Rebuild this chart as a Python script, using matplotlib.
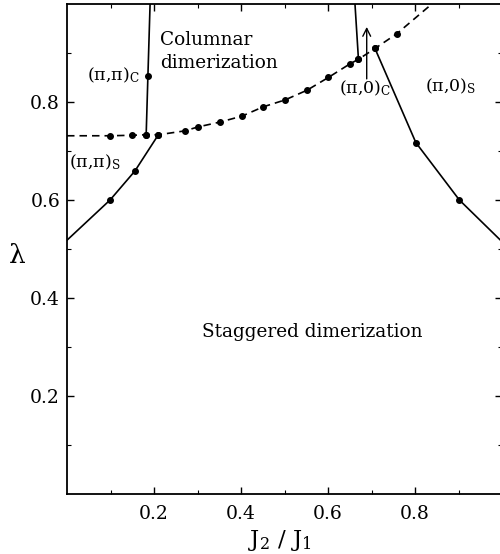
import matplotlib
matplotlib.use("Agg")
import matplotlib.pyplot as plt
from matplotlib.ticker import FixedLocator

plt.rcParams['font.family'] = ['DejaVu Serif']
plt.rcParams['mathtext.fontset'] = 'dejavuserif'

# (pi,pi)_c boundary (columnar vs (pi,pi) collinear)
pipi_c_J = [0.191, 0.186, 0.182]
pipi_c_lam = [1.0, 0.853, 0.733]

# dashed boundary (columnar vs staggered)
dash_J = [0.0, 0.098, 0.149, 0.182, 0.210, 0.271, 0.301, 0.352, 0.402, 0.451,
          0.501, 0.552, 0.601, 0.651, 0.670, 0.708, 0.758, 0.839]
dash_lam = [0.731, 0.731, 0.732, 0.733, 0.733, 0.741, 0.749, 0.759, 0.771, 0.790,
            0.804, 0.824, 0.850, 0.878, 0.887, 0.909, 0.939, 1.0]

# (pi,pi)_s boundary
pipi_s_J = [0.0, 0.099, 0.156, 0.210]
pipi_s_lam = [0.518, 0.600, 0.659, 0.733]

# (pi,0)_c boundary
pi0_c_J = [0.662, 0.670]
pi0_c_lam = [1.0, 0.887]

# (pi,0)_s boundary
pi0_s_J = [0.708, 0.802, 0.902, 1.0]
pi0_s_lam = [0.909, 0.717, 0.600, 0.515]

fig = plt.figure(figsize=(5.0, 5.54), dpi=100)
ax = fig.add_axes([0.134, 0.108, 0.87, 0.885])

lw = 1.2
ms = 4
ax.plot(dash_J, dash_lam, color='black', lw=lw, ls=(0, (4.5, 3)),
        marker='o', ms=ms, markevery=list(range(1, len(dash_J) - 1)))
ax.plot(pipi_c_J, pipi_c_lam, color='black', lw=lw, marker='o', ms=ms, markevery=[1, 2])
ax.plot(pipi_s_J, pipi_s_lam, color='black', lw=lw, marker='o', ms=ms, markevery=[1, 2, 3])
ax.plot(pi0_c_J, pi0_c_lam, color='black', lw=lw, marker='o', ms=ms, markevery=[1])
ax.plot(pi0_s_J, pi0_s_lam, color='black', lw=lw, marker='o', ms=ms, markevery=[0, 1, 2])

ax.annotate('', xy=(0.689, 0.953), xytext=(0.689, 0.847),
            arrowprops=dict(arrowstyle='->', color='black', lw=1.0,
                            shrinkA=0, shrinkB=0, mutation_scale=14))

fs = 13.3
fl = 12.5
ax.text(0.214, 0.902, 'Columnar\ndimerization', fontsize=fs, ha='left', va='center',
        linespacing=1.35)
ax.text(0.046, 0.855, '(π,π)$_\\mathrm{C}$', fontsize=fl, ha='left', va='center')
ax.text(0.005, 0.676, '(π,π)$_\\mathrm{S}$', fontsize=fl, ha='left', va='center')
ax.text(0.626, 0.828, '(π,0)$_\\mathrm{C}$', fontsize=fl, ha='left', va='center')
ax.text(0.823, 0.832, '(π,0)$_\\mathrm{S}$', fontsize=fl, ha='left', va='center')
ax.text(0.310, 0.331, 'Staggered dimerization', fontsize=fs, ha='left', va='center')

ax.set_xlim(0, 1.0)
ax.set_ylim(0, 1.0)

major = [0.2, 0.4, 0.6, 0.8]
minor = [0.1, 0.3, 0.5, 0.7, 0.9]
ax.xaxis.set_major_locator(FixedLocator(major))
ax.yaxis.set_major_locator(FixedLocator(major))
ax.xaxis.set_minor_locator(FixedLocator(minor))
ax.yaxis.set_minor_locator(FixedLocator(minor))
ax.set_xticklabels(['0.2', '0.4', '0.6', '0.8'])
ax.set_yticklabels(['0.2', '0.4', '0.6', '0.8'])
ax.tick_params(which='both', direction='in', top=True, right=True, labelsize=13.5)
ax.tick_params(which='major', length=5, width=1.0)
ax.tick_params(which='minor', length=3, width=0.8)
ax.tick_params(axis='x', pad=8)
ax.tick_params(axis='y', pad=5)
for s in ax.spines.values():
    s.set_linewidth(1.3)

ax.set_xlabel('J$_2$ / J$_1$', fontsize=16.5, va='center')
ax.xaxis.set_label_coords(0.49, -0.094)
ax.set_ylabel('λ', fontsize=19, rotation=0, va='center', ha='center')
ax.yaxis.set_label_coords(-0.115, 0.486)

fig.savefig('out.png', dpi=100)
